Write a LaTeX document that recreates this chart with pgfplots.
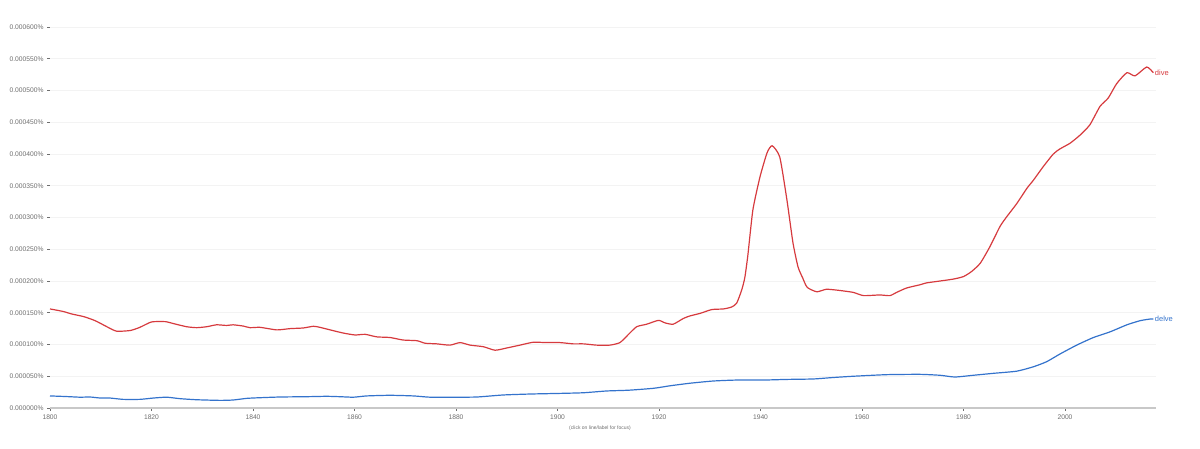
\documentclass[border=0pt]{standalone}
\usepackage{fontspec}
\setmainfont{Liberation Sans}
\usepackage{pgfplots}
\pgfplotsset{compat=1.18}
\definecolor{divec}{RGB}{214,58,62}
\definecolor{delvec}{RGB}{52,115,204}
\definecolor{tickc}{RGB}{110,110,110}
\definecolor{gridc}{RGB}{243,243,243}
\definecolor{axisc}{RGB}{200,200,200}
\begin{document}
\begin{tikzpicture}
\path[use as bounding box] (0,0) rectangle (1200pt,449pt);
\begin{axis}[
  at={(50pt,41pt)}, anchor=south west,
  scale only axis,
  width=1106.35pt, height=381pt,
  xmin=1800, xmax=2018, ymin=0, ymax=0.0006,
  axis x line*=bottom, axis y line*=left,
  x axis line style={-, draw=axisc, line width=1.6pt},
  y axis line style={draw=none},
  xtick={1800,1820,...,2000},
  ytick={0,0.00005,...,0.00061},
  scaled y ticks=false,
  tick align=outside,
  major tick length=3pt,
  tick style={draw=tickc, line width=0.5pt},
  ymajorgrids, grid style={draw=gridc, line width=0.8pt},
  /pgf/number format/assume math mode=true,
  xticklabel style={font=\fontsize{6.7}{8}\selectfont, text=tickc, /pgf/number format/1000 sep=},
  yticklabel style={font=\fontsize{6.7}{8}\selectfont, text=tickc},
  yticklabel={\pgfmathprintnumber[fixed,fixed zerofill,precision=6]{\tick}\%},
  clip=false,
]
\addplot[draw=divec, line width=1.2pt, line join=round, smooth, tension=0.35] table[x=year, y=v] {
year v
1800 0.000156
1802.6 0.000152
1804.3 0.000148
1806.6 0.000144
1808.9 0.0001375
1811.2 0.000128
1813.1 0.000121
1815.8 0.000122
1817.7 0.000127
1820 0.0001355
1822.7 0.000136
1824.3 0.000133
1826.9 0.000128
1828.9 0.0001265
1830.9 0.000128
1832.8 0.000131
1834.8 0.000130
1836.1 0.000131
1838.1 0.000129
1839.4 0.0001265
1841.4 0.000127
1844.7 0.000123
1847.3 0.000125
1849.9 0.000126
1851.9 0.0001287
1853.2 0.000127
1855.2 0.000123
1857.8 0.000118
1860.1 0.000115
1862.1 0.000116
1864.4 0.000112
1867 0.000111
1869.6 0.000107
1872.3 0.000106
1873.9 0.000102
1876.2 0.000101
1878.8 0.000099
1880.8 0.000103
1882.8 0.000099
1885.4 0.0000965
1887.7 0.000091
1890 0.0000945
1892.6 0.000099
1895.2 0.0001035
1897.9 0.000103
1900.5 0.000103
1903.1 0.000101
1905.1 0.000101
1907.7 0.000099
1910.3 0.000099
1912.3 0.000103
1914 0.000116
1915.6 0.000128
1917.6 0.000132
1919.9 0.000138
1921.2 0.000134
1922.8 0.000132
1924.8 0.000141
1926.1 0.000145
1928.1 0.000149
1930.4 0.000155
1932.7 0.000156
1934.3 0.000159
1935.3 0.000165
1936.3 0.000186
1936.9 0.000205
1937.5 0.000240
1938.5 0.000312
1939.9 0.000364
1941.3 0.000402
1942.3 0.000413
1943.8 0.000395
1945.2 0.000328
1946.4 0.000260
1947.4 0.000222
1948.3 0.000205
1949.2 0.000190
1951.1 0.000183
1953 0.000187
1955.7 0.000185
1958.3 0.000182
1960.3 0.000177
1963.5 0.000178
1965.5 0.000177
1966.8 0.000182
1968.8 0.000189
1971.4 0.000194
1972.7 0.000197
1975.4 0.000200
1978 0.000203
1980 0.000207
1981.6 0.000215
1983.3 0.000228
1985.2 0.000254
1987.2 0.000286
1988.5 0.000301
1990.5 0.000322
1992.5 0.000346
1993.8 0.000359
1995.7 0.000380
1997.7 0.000400
1999 0.000408
2001 0.000417
2003 0.000430
2004.9 0.000446
2006.9 0.000475
2008.5 0.000488
2010.2 0.000511
2012.2 0.000528
2013.8 0.000523
2016.1 0.000537
2017.4 0.000528
} node[pos=1, anchor=west, xshift=1pt, text=divec, font=\fontsize{7.5}{8}\selectfont, inner sep=0pt] {dive};
\addplot[draw=delvec, line width=1.2pt, line join=round, smooth, tension=0.35] table[x=year, y=v] {
year v
1800 0.000019
1803.3 0.000018
1805.9 0.000017
1807.9 0.0000173
1809.9 0.0000157
1811.8 0.0000157
1814.4 0.0000136
1817.7 0.0000136
1820.4 0.0000157
1823 0.000017
1825.6 0.0000147
1828.9 0.000013
1833.5 0.000012
1836.1 0.0000126
1838.8 0.0000152
1841.4 0.0000162
1845.3 0.0000173
1850.6 0.0000178
1854.5 0.0000184
1857.1 0.0000178
1859.8 0.000017
1862.4 0.000019
1867 0.000020
1871.6 0.000019
1874.9 0.000017
1879.5 0.000017
1884.1 0.0000173
1889.3 0.0000205
1894.6 0.000022
1900.5 0.000023
1905.1 0.000024
1909.7 0.0000268
1914 0.000028
1918.9 0.000031
1922.2 0.000035
1926.1 0.000039
1930.7 0.0000425
1935.3 0.000044
1940.5 0.000044
1945.2 0.000045
1950.4 0.0000457
1954.3 0.000048
1958.3 0.000050
1964.9 0.0000525
1971.4 0.000053
1975.4 0.0000515
1978.3 0.0000488
1981.9 0.0000515
1985.9 0.0000546
1990.5 0.000058
1993.8 0.000065
1996.4 0.000073
1999 0.000085
2002.3 0.000099
2005.6 0.000111
2008.9 0.000120
2012.2 0.000131
2014.8 0.0001375
2016.7 0.000140
2017.4 0.000140
} node[pos=1, anchor=west, xshift=1pt, text=delvec, font=\fontsize{7.5}{8}\selectfont, inner sep=0pt] {delve};
\end{axis}
\node[text=tickc, font=\fontsize{5}{6}\selectfont] at (600pt,21pt) {(click on line/label for focus)};
\end{tikzpicture}
\end{document}
